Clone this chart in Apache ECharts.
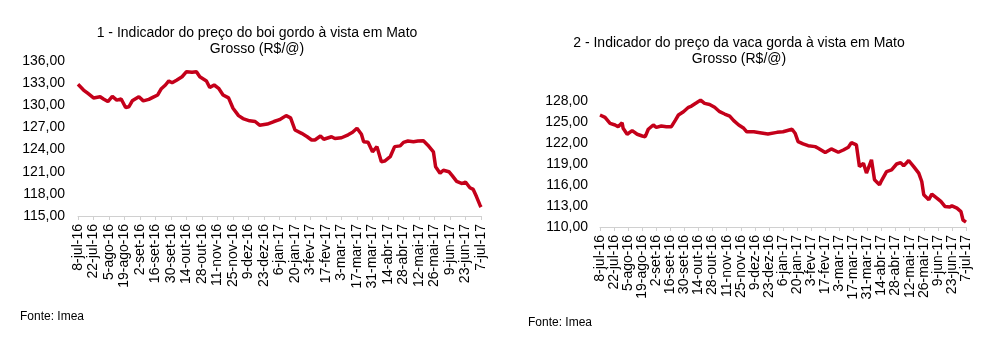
<!DOCTYPE html>
<html>
<head>
<meta charset="utf-8">
<script src="https://cdn.jsdelivr.net/npm/echarts@6/dist/echarts.min.js"></script>
<style>
html,body{margin:0;padding:0;background:#fff;}
#c{width:997px;height:338px;}
</style>
</head>
<body>
<div id="c"></div>
<script>
// Tick labels (every 14 days starting 8-jul-16)
const tickLabels = ['8-jul-16','22-jul-16','5-ago-16','19-ago-16','2-set-16','16-set-16','30-set-16','14-out-16','28-out-16','11-nov-16','25-nov-16','9-dez-16','23-dez-16','6-jan-17','20-jan-17','3-fev-17','17-fev-17','3-mar-17','17-mar-17','31-mar-17','14-abr-17','28-abr-17','12-mai-17','26-mai-17','9-jun-17','23-jun-17','7-jul-17'];

// Chart 1: boi gordo — days since 8-jul-16, price R$/@
const boiDays = [0,5,9,14,20,23,27,31,35,39,43,46,49,55,59,64,68,72,75,79,82,85,89,94,98,103,107,110,116,119,123,127,131,136,140,145,149,155,160,164,171,177,182,188,192,196,202,207,211,214,219,222,229,232,238,244,248,252,256,258,262,266,270,274,277,282,286,291,294,298,303,307,312,316,321,323,327,330,335,338,342,347,350,354,357,360,363,364];
const boiValues = [132.84,132.07,131.6,131.0,131.16,130.85,130.5,131.2,130.7,130.85,129.7,129.8,130.6,131.16,130.6,130.8,131.1,131.4,132.2,132.75,133.3,133.06,133.4,133.87,134.55,134.47,134.55,133.87,133.3,132.4,132.75,132.3,131.4,131.0,129.6,128.6,128.2,127.9,127.8,127.3,127.46,127.8,128.05,128.6,128.3,126.65,126.2,125.74,125.3,125.3,125.84,125.4,125.74,125.5,125.6,126.0,126.34,126.88,126.07,125.07,124.98,123.7,124.4,122.36,122.45,123.03,124.4,124.5,124.98,125.16,125.07,125.16,125.2,124.6,123.7,121.67,120.8,121.2,121.0,120.46,119.7,119.4,119.6,118.83,118.6,117.6,116.5,116.2];
const boiYTicks = [115,118,121,124,127,130,133,136];

// Chart 2: vaca gorda
const vacaDays = [0,5,10,15,18,22,23,27,32,37,42,45,48,53,56,61,66,71,75,78,83,88,91,96,100,104,109,114,119,124,129,133,138,143,146,153,159,167,176,182,191,194,197,202,207,214,217,224,230,237,242,247,250,255,258,262,265,270,273,278,280,285,290,295,299,302,307,312,317,320,322,327,330,335,339,343,348,350,355,359,361,364];
const vacaValues = [126.0,125.67,124.8,124.57,124.33,124.9,124.1,123.25,123.76,123.25,123.0,122.9,123.96,124.57,124.24,124.43,124.33,124.33,125.28,126.0,126.47,127.1,127.28,127.75,128.13,127.66,127.5,127.1,126.47,126.14,125.85,125.2,124.57,124.1,123.6,123.6,123.47,123.28,123.52,123.6,123.96,123.4,122.2,121.87,121.62,121.48,121.25,120.63,121.15,120.68,121.0,121.4,122.05,121.72,118.63,119.1,117.7,119.6,116.74,116.03,116.64,117.92,118.16,119.0,119.2,118.73,119.5,118.63,117.7,116.5,114.6,113.9,114.7,114.13,113.65,112.94,112.85,113.03,112.7,112.2,111.0,110.7];
const vacaYTicks = [110,113,116,119,122,125,128];

const title1 = '1 - Indicador do preço do boi gordo à vista em Mato\nGrosso (R$/@)';
const title2 = '2 - Indicador do preço da vaca gorda à vista em Mato\nGrosso (R$/@)';
const source = 'Fonte: Imea';

const FONT = '"Liberation Sans", Arial, sans-serif';
const LINE_COLOR = '#C4001A';

function fmtNum(v){ return v.toFixed(2).replace('.', ','); }

function xAxisCfg(gridIndex){
  return {
    type: 'value', gridIndex, min: 0, max: 364, interval: 14,
    axisLine: {show: true, lineStyle: {color: '#D0D0D0', width: 1}},
    axisTick: {show: true, length: 4, lineStyle: {color: '#D0D0D0'}},
    splitLine: {show: false},
    axisLabel: {
      rotate: 90, margin: 8, color: '#000', fontFamily: FONT, fontSize: 14,
      formatter: v => tickLabels[Math.round(v / 14)] || ''
    }
  };
}
function yAxisCfg(gridIndex, min, max, ticks, margin){
  return {
    type: 'value', gridIndex, min, max,
    axisLine: {show: false}, axisTick: {show: false}, splitLine: {show: false},
    axisLabel: {
      customValues: ticks, margin, color: '#000', fontFamily: FONT, fontSize: 14,
      formatter: v => fmtNum(v)
    }
  };
}

const chart = echarts.init(document.getElementById('c'), null, {renderer: 'canvas'});
chart.setOption({
  animation: false,
  backgroundColor: '#fff',
  grid: [
    {left: 78, top: 61, width: 403, height: 155},
    {left: 600, top: 101, width: 366, height: 126}
  ],
  xAxis: [xAxisCfg(0), xAxisCfg(1)],
  yAxis: [yAxisCfg(0, 115, 136, boiYTicks, 13), yAxisCfg(1, 110, 128, vacaYTicks, 12)],
  series: [
    {type: 'line', xAxisIndex: 0, yAxisIndex: 0, data: boiDays.map((d, i) => [d, boiValues[i]]),
     showSymbol: false, clip: false, lineStyle: {color: LINE_COLOR, width: 3.5}, smooth: false},
    {type: 'line', xAxisIndex: 1, yAxisIndex: 1, data: vacaDays.map((d, i) => [d, vacaValues[i]]),
     showSymbol: false, clip: false, lineStyle: {color: LINE_COLOR, width: 3.5}, smooth: false}
  ],
  graphic: [
    {type: 'text', x: 257, y: 25, style: {text: title1, fontFamily: FONT, fontSize: 14, lineHeight: 16, fill: '#000', align: 'center', verticalAlign: 'top'}},
    {type: 'text', x: 739, y: 35, style: {text: title2, fontFamily: FONT, fontSize: 14, lineHeight: 16, fill: '#000', align: 'center', verticalAlign: 'top'}},
    {type: 'text', x: 20, y: 311, style: {text: source, fontFamily: FONT, fontSize: 12, fill: '#000', align: 'left', verticalAlign: 'top'}},
    {type: 'text', x: 528, y: 317, style: {text: source, fontFamily: FONT, fontSize: 12, fill: '#000', align: 'left', verticalAlign: 'top'}}
  ]
});
</script>
</body>
</html>
